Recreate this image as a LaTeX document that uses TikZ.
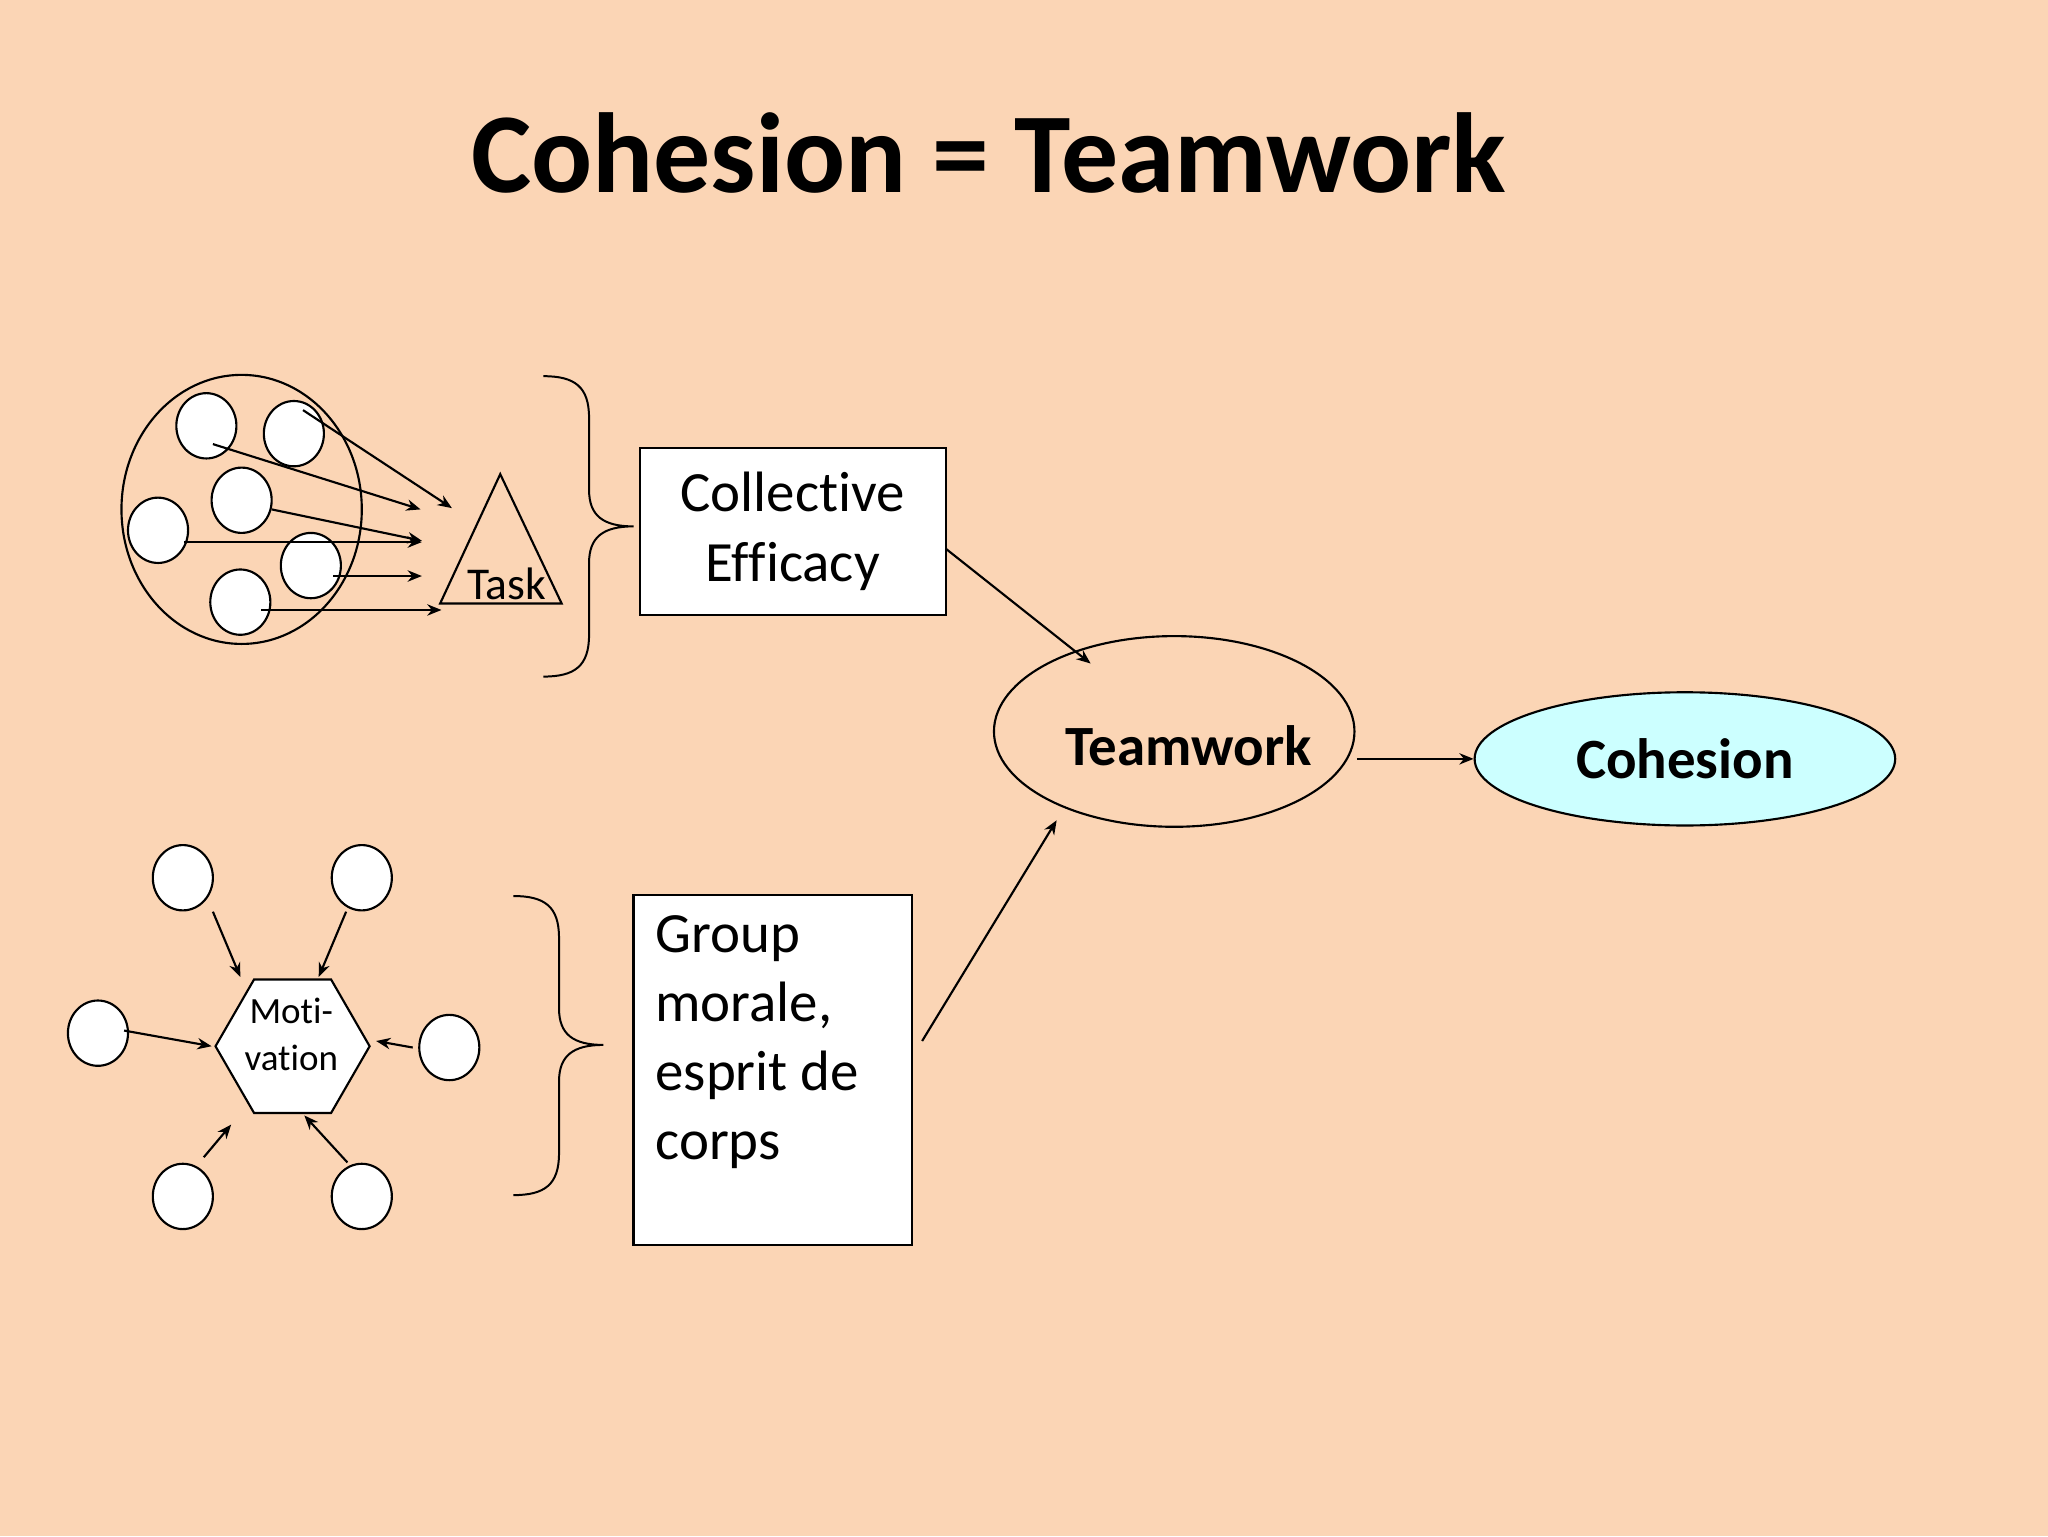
\documentclass[tikz,border=0pt]{standalone}
\usepackage{fontspec}
\setmainfont{Carlito}[Ligatures={NoCommon}]
\usetikzlibrary{arrows.meta,shapes.geometric}
\definecolor{bg}{HTML}{FBD5B5}
\definecolor{cy}{HTML}{CCFFFF}
\begin{document}
\begin{tikzpicture}[x=0.459pt,y=-0.459pt,line width=0.75pt,
  arr/.style={-{Stealth[length=5pt,width=4pt]}},
  sc/.style={draw,fill=white,ellipse,minimum width=46*0.459pt,minimum height=50*0.459pt,inner sep=0pt},
  brace/.style={line width=0.7pt}]
\fill[bg] (0,0) rectangle (1568,1176);
\useasboundingbox (0,0) rectangle (1568,1176);
\node (title) at (757,117) {\fontsize{40}{48}\selectfont\bfseries Cohesion = Teamwork};
% group 1
\node (big) [draw,ellipse,minimum width=184*0.459pt,minimum height=206*0.459pt] at (185,390) {};
\foreach \n/\x/\y in {a/158/326,b/225/332,c/185/383,d/121/406,e/238/433,f/184/461}
  \node[sc] (\n) at (\x,\y) {};
\coordinate (t1) at (383,363); \coordinate (t2) at (337,462); \coordinate (t3) at (430,462);
\draw (t1) -- (t2) -- (t3) -- cycle;
\node (task) at (388,447) {\fontsize{16}{18}\selectfont Task};
\coordinate (p1) at (163,340); \coordinate (q1) at (322,390);
\coordinate (p2) at (232,314); \coordinate (q2) at (346,389);
\coordinate (p3) at (208,390); \coordinate (q3) at (323,414);
\coordinate (p4) at (141,415); \coordinate (q4) at (323,415);
\coordinate (p5) at (255,441); \coordinate (q5) at (323,441);
\coordinate (p6) at (200,467); \coordinate (q6) at (338,467);
\foreach \i in {1,...,6} \draw[arr] (p\i) -- (q\i);
\draw[brace] (416,288) .. controls (440,288) and (451,296) .. (451,320) -- (451,375) .. controls (451,395) and (462,403) .. (485,403)
  .. controls (462,403) and (451,411) .. (451,431) -- (451,486) .. controls (451,510) and (440,518) .. (416,518);
\node (ce) [draw,fill=white,minimum width=234*0.459pt,minimum height=128*0.459pt,align=center,inner sep=0pt,
  font=\fontsize{20}{24.5}\selectfont] at (607,407) {Collective\\Efficacy};
% center
\node (tw) [draw,ellipse,minimum width=276*0.459pt,minimum height=146*0.459pt] at (899,560) {};
\node at (910,571) {\fontsize{20}{24}\selectfont\bfseries Teamwork};
\node (co) [draw,ellipse,fill=cy,minimum width=322*0.459pt,minimum height=102*0.459pt] at (1290,581)
  {\fontsize{20}{24}\selectfont\bfseries Cohesion};
\draw[arr] (tw.east) ++(1,21) coordinate (x1) (x1) -- (co.west);
\coordinate (c1) at (724,420); \coordinate (c2) at (835,508);
\draw[arr] (c1) -- (c2);
\coordinate (g1) at (706,797); \coordinate (g2) at (809,628);
\draw[arr] (g1) -- (g2);
% group 2
\node (gm) [draw,fill=white,minimum width=213*0.459pt,minimum height=268*0.459pt] at (591.5,819) {};
\node[anchor=north west,align=left,inner sep=0pt,font=\fontsize{20}{24.3}\selectfont] at (501,700)
  {Group\\morale,\\esprit de\\corps};
\draw[brace] (393,686) .. controls (417,686) and (428,694) .. (428,718) -- (428,772) .. controls (428,792) and (439,800) .. (462,800)
  .. controls (439,800) and (428,808) .. (428,828) -- (428,883) .. controls (428,907) and (417,915) .. (393,915);
\node (hex) [draw,fill=white,regular polygon,regular polygon sides=6,minimum size=118*0.459pt,inner sep=0pt] at (224,801) {};
\node[align=center,font=\fontsize{13}{16.5}\selectfont] at (223,792) {Moti-\\vation};
\foreach \n/\x/\y in {m1/140/672,m2/277/672,m3/75/791,m4/344/802,m5/140/916,m6/277/916}
  \node[sc] (\n) at (\x,\y) {};
\coordinate (r1) at (163,698); \coordinate (s1) at (184,748);
\coordinate (r2) at (265,698); \coordinate (s2) at (244,748);
\coordinate (r3) at (95,789); \coordinate (s3) at (162,801);
\coordinate (r4) at (316,802); \coordinate (s4) at (288,797);
\coordinate (r5) at (156,886); \coordinate (s5) at (177,861);
\coordinate (r6) at (266,890); \coordinate (s6) at (233,854);
\foreach \i in {1,...,6} \draw[arr] (r\i) -- (s\i);
\end{tikzpicture}
\end{document}
